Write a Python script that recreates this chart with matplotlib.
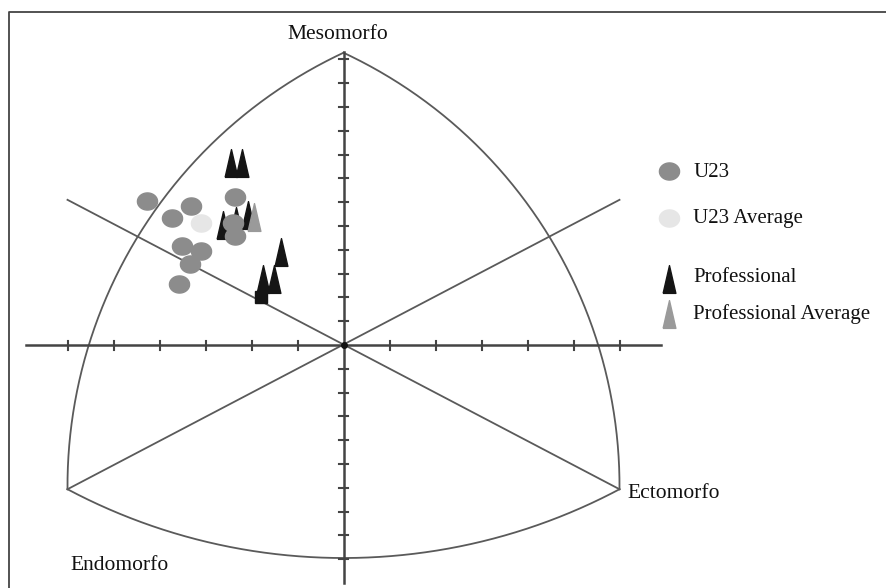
import numpy as np
import matplotlib
matplotlib.use("Agg")
import matplotlib.pyplot as plt
from matplotlib.lines import Line2D

# ── Data (somatochart X / Y) ──────────────────────────────────
u23_x = [-4.28, -3.32, -3.73, -2.36, -2.41, -2.36, -3.52, -3.10, -3.34, -3.57]
u23_y = [6.05, 5.84, 5.32, 6.21, 5.14, 4.58, 4.16, 3.94, 3.40, 2.56]
u23_avg_x = [-3.10]
u23_avg_y = [5.14]

pro_x = [-2.45, -2.21, -2.61, -2.34, -2.07, -1.36, -1.74, -1.51]
pro_y = [7.63, 7.63, 5.05, 5.20, 5.47, 3.91, 2.79, 2.77]
pro_extra_x = [-1.80]
pro_extra_y = [2.02]
pro_avg_x = [-1.94]
pro_avg_y = [5.37]

legend_labels = ["U23", "U23 Average", "Professional", "Professional Average"]

# ── Chart frame geometry ──────────────────────────────────────
ENDO = (-6.0, -6.06)
ECTO = (6.0, -6.06)
MESO = (0.0, 12.28)
BOTTOM_Y = -8.95
SX, SY = 46.0, 23.8          # px per unit, x and y

C_LINE = "#5a5a5a"
C_AXIS = "#444444"
C_U23 = "#8c8c8c"
C_U23_AVG = "#e6e6e6"
C_PRO = "#151515"
C_PRO_AVG = "#9a9a9a"

plt.rcParams["font.family"] = ["Liberation Serif", "DejaVu Serif"]

W, H = 887, 588
fig = plt.figure(figsize=(W / 100, H / 100), dpi=100)
ax = fig.add_axes([0, 0, 1, 1])
ax.set_xlim(-343.5 / SX, (W - 343.5) / SX)
ax.set_ylim(-(H - 345) / SY, 345 / SY)
ax.axis("off")


def arc_through(p0, p1, p2, n=200):
    """Circular arc (in pixel-like space) through three points."""
    a = np.array([p0[0] * SX, p0[1] * SY])
    b = np.array([p1[0] * SX, p1[1] * SY])
    c = np.array([p2[0] * SX, p2[1] * SY])
    d = 2 * (a[0] * (b[1] - c[1]) + b[0] * (c[1] - a[1]) + c[0] * (a[1] - b[1]))
    ux = ((a @ a) * (b[1] - c[1]) + (b @ b) * (c[1] - a[1]) + (c @ c) * (a[1] - b[1])) / d
    uy = ((a @ a) * (c[0] - b[0]) + (b @ b) * (a[0] - c[0]) + (c @ c) * (b[0] - a[0])) / d
    r = np.hypot(a[0] - ux, a[1] - uy)
    t0 = np.arctan2(a[1] - uy, a[0] - ux)
    t1 = np.arctan2(b[1] - uy, b[0] - ux)
    t2 = np.arctan2(c[1] - uy, c[0] - ux)
    # pick direction that passes through b
    def unwrap(t):
        return (t - t0) % (2 * np.pi)
    if unwrap(t1) < unwrap(t2):
        ts = np.linspace(0, unwrap(t2), n) + t0
    else:
        ts = t0 - np.linspace(0, 2 * np.pi - unwrap(t2), n)
    return (ux + r * np.cos(ts)) / SX, (uy + r * np.sin(ts)) / SY


# side arcs (vertical tangent at the base corners)
left_mid = (-(343.5 - 88.8) / SX, 0.0)
ax.plot(*arc_through(ENDO, left_mid, MESO), color=C_LINE, lw=1.3)
ax.plot(*arc_through(ECTO, (-left_mid[0], 0.0), MESO), color=C_LINE, lw=1.3)
ax.plot(*arc_through(ENDO, (0.0, BOTTOM_Y), ECTO), color=C_LINE, lw=1.3)

# diagonals and axes
ax.plot([-6, 6], [6.1, -6.06], color=C_LINE, lw=1.3)
ax.plot([-6, 6], [-6.06, 6.1], color=C_LINE, lw=1.3)
ax.plot([-6.9, 6.9], [0, 0], color=C_AXIS, lw=1.8)
ax.plot([0, 0], [-10.0, MESO[1] + 0.05], color=C_AXIS, lw=1.8)

# tick marks
tx = 4.5 / SY
for v in range(-6, 7):
    if v != 0:
        ax.plot([v, v], [-tx, tx], color=C_AXIS, lw=1.5)
ty = 4.5 / SX
for v in range(-9, 13):
    if v != 0:
        ax.plot([-ty, ty], [v, v], color=C_AXIS, lw=1.5)
ax.plot([0], [0], marker="o", color="#111111", ms=4)

# ── Markers ──────────────────────────────────────────────────
th = np.linspace(0, 2 * np.pi, 60)
ELLIPSE = np.column_stack([0.5 * np.cos(th), 0.425 * np.sin(th)])
TRI = [(-0.23, -0.5), (0.23, -0.5), (0.0, 0.5), (-0.23, -0.5)]

ax.plot(pro_x, pro_y, ls="none", marker=TRI, ms=20, color=C_PRO, zorder=3)
ax.plot(pro_extra_x, pro_extra_y, ls="none", marker="s", ms=9.2, color=C_PRO, zorder=3)
ax.plot(u23_x, u23_y, ls="none", marker=ELLIPSE, ms=14.5, color=C_U23, zorder=4)
ax.plot(u23_avg_x, u23_avg_y, ls="none", marker=ELLIPSE, ms=14.5, color=C_U23_AVG, zorder=4)
ax.plot(pro_avg_x, pro_avg_y, ls="none", marker=TRI, ms=20, color=C_PRO_AVG, zorder=5)

# ── Corner labels ────────────────────────────────────────────
ax.text(-0.12, 13.05, "Mesomorfo", fontsize=15.5, ha="center", va="center", color="#111111")
ax.text(-5.93, -9.25, "Endomorfo", fontsize=15.5, ha="left", va="center", color="#111111")
ax.text(6.18, -6.25, "Ectomorfo", fontsize=15.5, ha="left", va="center", color="#111111")

# ── Legend (manual) ──────────────────────────────────────────
leg_markers = [(ELLIPSE, C_U23, 14.5), (ELLIPSE, C_U23_AVG, 14.5),
               (TRI, C_PRO, 20), (TRI, C_PRO_AVG, 20)]
leg_y = [171, 218, 279, 314]
text_y = [173, 218, 277, 314]
for (mk, col, ms), my, tyy, lbl in zip(leg_markers, leg_y, text_y, legend_labels):
    ax.plot([669 / W], [1 - my / H], transform=ax.transAxes, marker=mk,
            ms=ms, color=col, ls="none", clip_on=False)
    ax.text(693 / W, 1 - tyy / H, lbl, transform=ax.transAxes, fontsize=15,
            ha="left", va="center", color="#111111")

# outer frame (top and left edges visible)
fig.add_artist(Line2D([9 / W, 9 / W, 1.01], [-0.01, 1 - 12 / H, 1 - 12 / H],
                      transform=fig.transFigure, color="#444444", lw=1.3))

fig.savefig("out.png", dpi=100, facecolor="white")
